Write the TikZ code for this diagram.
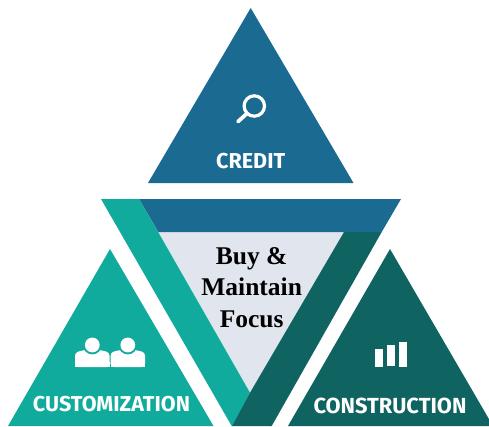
\documentclass[tikz,border=0pt]{standalone}
\usepackage{fontspec}
\setmainfont{Liberation Serif}
\newfontfamily\labelfont{Fira Sans}
\definecolor{cblue}{HTML}{1A6A92}
\definecolor{cteal}{HTML}{11AB9D}
\definecolor{cdark}{HTML}{0F6361}
\definecolor{clight}{HTML}{E1E5ED}
\tikzset{
  caplabel/.style={text=white,inner sep=0pt,anchor=base,font=\labelfont\bfseries\fontsize{19}{19}\selectfont},
  centertext/.style={text=black,inner sep=0pt,anchor=base,font=\bfseries\fontsize{25.5}{25.5}\selectfont},
  glyph/.style={fill=white,draw=none}
}
\begin{document}
\begin{tikzpicture}[x=1pt,y=-1pt]
\useasboundingbox (0,0) rectangle (489,426);
\clip (0,0) rectangle (489,426);
% outer triangles
\fill[cblue] (250.7,8) -- (353.5,183) -- (148,183) -- cycle;
\fill[cteal] (110,249) -- (213.5,426) -- (8,426) -- cycle;
\fill[cdark] (390,249) -- (493,426) -- (288,426) -- cycle;
% centre
\fill[clight] (158.3,232) -- (344,232) -- (250,392.7) -- cycle;
\fill[cteal] (101,199) -- (139.3,199) -- (250,392.7) -- (232.7,426) -- (231.7,426) -- cycle;
\fill[cdark] (250,392.7) -- (344,232) -- (381.7,232) -- (271.7,426) -- (232.2,426) -- cycle;
\fill[cblue] (139.3,199) -- (401,199) -- (381.7,232) -- (158.3,232) -- cycle;
% magnifier
\draw[white,line width=3.2pt] (254.3,106) circle (10.2);
\draw[white,line width=3.8pt,line cap=round] (246.6,113.8) -- (238,121.6);
% people
\foreach \cx in {92.3,127.8}{
  \fill[white,rounded corners=3pt] (\cx-17.2,367) -- (\cx-17.2,352.5) -- (\cx-8,350) -- (\cx+8,350) -- (\cx+17.2,352.5) -- (\cx+17.2,367) -- cycle;
  \fill[white] (\cx-17.2,367.2) rectangle (\cx+17.2,362);
  \fill[cteal] (\cx,345) circle (9.4);
  \fill[white] (\cx,345) circle (7.4);
}
% bars
\fill[glyph] (375,349) rectangle (382.7,367);
\fill[glyph] (387,345) rectangle (395,366);
\fill[glyph] (399,342) rectangle (407,367);
% labels
\node[caplabel] (credit) at (250.7,168.5) {\resizebox{69pt}{!}{CREDIT}};
\node[caplabel] (custom) at (111.5,411.7) {\resizebox{157pt}{!}{CUSTOMIZATION}};
\node[caplabel] (constr) at (390,413) {\resizebox{153pt}{!}{CONSTRUCTION}};
\node[centertext] (buy) at (251.7,264) {Buy \&};
\node[centertext] (maintain) at (251.7,295.7) {Maintain};
\node[centertext] (focus) at (251.7,327) {Focus};
\end{tikzpicture}
\end{document}
